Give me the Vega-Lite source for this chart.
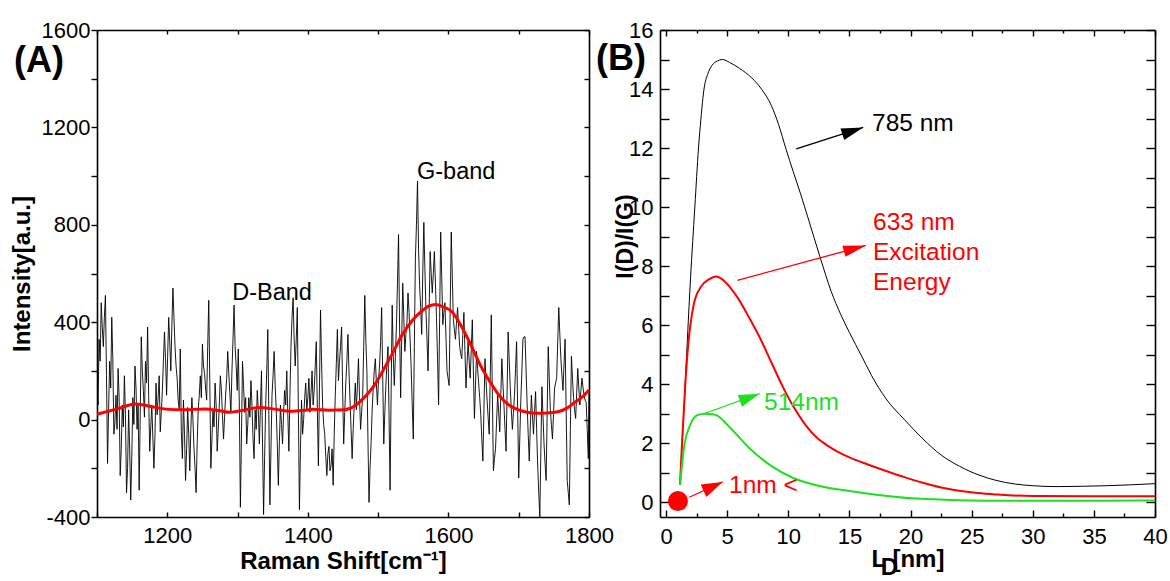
{
  "$schema": "https://vega.github.io/schema/vega-lite/v6.json",
  "background": "white",
  "padding": {"left": 10, "top": 19, "right": 5, "bottom": 0},
  "spacing": 71,
  "bounds": "flush",
  "config": {
    "font": "Liberation Sans",
    "view": {"stroke": null},
    "axis": {
      "domainColor": "black", "domainWidth": 1.6, "tickColor": "black", "tickWidth": 1.4,
      "labelColor": "black", "titleColor": "black", "labelFont": "Liberation Sans", "titleFont": "Liberation Sans",
      "labelFontSize": 22, "titleFontSize": 24, "titleFontWeight": "bold", "grid": false,
      "labelOverlap": false, "labelFlush": false, "labelBound": false
    }
  },
  "datasets": {
    "spectrum": [
      {"shift":1100,"intensity":150},{"shift":1101.5,"intensity":60},{"shift":1103,"intensity":330},{"shift":1104.5,"intensity":240},{"shift":1106,"intensity":480},{"shift":1107.5,"intensity":380},{"shift":1109,"intensity":300},{"shift":1110.5,"intensity":420},{"shift":1112,"intensity":510},{"shift":1113.5,"intensity":180},{"shift":1115,"intensity":-180},{"shift":1116.5,"intensity":40},{"shift":1118,"intensity":240},{"shift":1119.5,"intensity":130},{"shift":1121,"intensity":420},{"shift":1122.5,"intensity":250},{"shift":1124,"intensity":-60},{"shift":1125.5,"intensity":-10},{"shift":1127,"intensity":100},{"shift":1128.5,"intensity":-40},{"shift":1130,"intensity":210},{"shift":1131.5,"intensity":90},{"shift":1133,"intensity":-230},{"shift":1134.5,"intensity":-120},{"shift":1136,"intensity":60},{"shift":1137.5,"intensity":-30},{"shift":1139,"intensity":180},{"shift":1140.5,"intensity":20},{"shift":1142,"intensity":-300},{"shift":1143.5,"intensity":-200},{"shift":1145,"intensity":40},{"shift":1146.5,"intensity":-120},{"shift":1148,"intensity":-330},{"shift":1149.5,"intensity":-150},
      {"shift":1151,"intensity":90},{"shift":1152.5,"intensity":-20},{"shift":1154,"intensity":220},{"shift":1155.5,"intensity":130},{"shift":1157,"intensity":-40},{"shift":1158.5,"intensity":60},{"shift":1160,"intensity":-290},{"shift":1161.5,"intensity":20},{"shift":1163,"intensity":340},{"shift":1164.5,"intensity":200},{"shift":1166,"intensity":120},{"shift":1167.5,"intensity":10},{"shift":1169,"intensity":240},{"shift":1170.5,"intensity":150},{"shift":1172,"intensity":380},{"shift":1173.5,"intensity":100},{"shift":1175,"intensity":-130},{"shift":1176.5,"intensity":-30},{"shift":1178,"intensity":60},{"shift":1179.5,"intensity":-80},{"shift":1181,"intensity":-200},{"shift":1182.5,"intensity":-60},{"shift":1184,"intensity":150},{"shift":1185.5,"intensity":20},{"shift":1187,"intensity":90},{"shift":1188.5,"intensity":180},{"shift":1190,"intensity":-50},{"shift":1191.5,"intensity":30},{"shift":1193,"intensity":120},{"shift":1194.5,"intensity":240},{"shift":1196,"intensity":360},{"shift":1197.5,"intensity":250},{"shift":1199,"intensity":100},
      {"shift":1200.5,"intensity":260},{"shift":1202,"intensity":420},{"shift":1203.5,"intensity":320},{"shift":1205,"intensity":200},{"shift":1206.5,"intensity":380},{"shift":1208,"intensity":540},{"shift":1209.5,"intensity":420},{"shift":1211,"intensity":300},{"shift":1212.5,"intensity":220},{"shift":1214,"intensity":170},{"shift":1215.5,"intensity":80},{"shift":1217,"intensity":40},{"shift":1218.5,"intensity":290},{"shift":1220,"intensity":-50},{"shift":1221.5,"intensity":-160},{"shift":1223,"intensity":80},{"shift":1224.5,"intensity":-60},{"shift":1226,"intensity":-250},{"shift":1227.5,"intensity":-120},{"shift":1229,"intensity":50},{"shift":1230.5,"intensity":-60},{"shift":1232,"intensity":-210},{"shift":1233.5,"intensity":-40},{"shift":1235,"intensity":90},{"shift":1236.5,"intensity":0},{"shift":1238,"intensity":-120},{"shift":1239.5,"intensity":-200},{"shift":1241,"intensity":-300},{"shift":1242.5,"intensity":-100},{"shift":1244,"intensity":40},{"shift":1245.5,"intensity":100},{"shift":1247,"intensity":180},{"shift":1248.5,"intensity":90},
      {"shift":1250,"intensity":310},{"shift":1251.5,"intensity":220},{"shift":1253,"intensity":190},{"shift":1254.5,"intensity":130},{"shift":1256,"intensity":80},{"shift":1257.5,"intensity":300},{"shift":1259,"intensity":490},{"shift":1260.5,"intensity":150},{"shift":1262,"intensity":-200},{"shift":1263.5,"intensity":-80},{"shift":1265,"intensity":40},{"shift":1266.5,"intensity":-30},{"shift":1268,"intensity":150},{"shift":1269.5,"intensity":60},{"shift":1271,"intensity":-130},{"shift":1272.5,"intensity":-40},{"shift":1274,"intensity":60},{"shift":1275.5,"intensity":180},{"shift":1277,"intensity":120},{"shift":1278.5,"intensity":20},{"shift":1280,"intensity":-80},{"shift":1281.5,"intensity":10},{"shift":1283,"intensity":100},{"shift":1284.5,"intensity":170},{"shift":1286,"intensity":280},{"shift":1287.5,"intensity":190},{"shift":1289,"intensity":110},{"shift":1290.5,"intensity":30},{"shift":1292,"intensity":200},{"shift":1293.5,"intensity":330},{"shift":1295,"intensity":470},{"shift":1296.5,"intensity":300},{"shift":1298,"intensity":220},{"shift":1299.5,"intensity":120},
      {"shift":1301,"intensity":290},{"shift":1302.5,"intensity":60},{"shift":1304,"intensity":-360},{"shift":1305.5,"intensity":-80},{"shift":1307,"intensity":240},{"shift":1308.5,"intensity":140},{"shift":1310,"intensity":30},{"shift":1311.5,"intensity":90},{"shift":1313,"intensity":-100},{"shift":1314.5,"intensity":-20},{"shift":1316,"intensity":90},{"shift":1317.5,"intensity":10},{"shift":1319,"intensity":160},{"shift":1320.5,"intensity":60},{"shift":1322,"intensity":-80},{"shift":1323.5,"intensity":-160},{"shift":1325,"intensity":40},{"shift":1326.5,"intensity":-40},{"shift":1328,"intensity":120},{"shift":1329.5,"intensity":40},{"shift":1331,"intensity":-100},{"shift":1332.5,"intensity":50},{"shift":1334,"intensity":200},{"shift":1335.5,"intensity":-100},{"shift":1337,"intensity":-390},{"shift":1338.5,"intensity":-150},{"shift":1340,"intensity":60},{"shift":1341.5,"intensity":200},{"shift":1343,"intensity":370},{"shift":1344.5,"intensity":20},{"shift":1346,"intensity":-350},{"shift":1347.5,"intensity":-120},{"shift":1349,"intensity":100},
      {"shift":1350.5,"intensity":180},{"shift":1352,"intensity":280},{"shift":1353.5,"intensity":140},{"shift":1355,"intensity":40},{"shift":1356.5,"intensity":-100},{"shift":1358,"intensity":-270},{"shift":1359.5,"intensity":-90},{"shift":1361,"intensity":60},{"shift":1362.5,"intensity":-20},{"shift":1364,"intensity":-100},{"shift":1365.5,"intensity":30},{"shift":1367,"intensity":120},{"shift":1368.5,"intensity":60},{"shift":1370,"intensity":200},{"shift":1371.5,"intensity":20},{"shift":1373,"intensity":-130},{"shift":1374.5,"intensity":100},{"shift":1376,"intensity":300},{"shift":1377.5,"intensity":420},{"shift":1379,"intensity":500},{"shift":1380.5,"intensity":330},{"shift":1382,"intensity":220},{"shift":1383.5,"intensity":330},{"shift":1385,"intensity":460},{"shift":1386.5,"intensity":40},{"shift":1388,"intensity":-370},{"shift":1389.5,"intensity":-120},{"shift":1391,"intensity":80},{"shift":1392.5,"intensity":-60},{"shift":1394,"intensity":0},{"shift":1395.5,"intensity":90},{"shift":1397,"intensity":150},{"shift":1398.5,"intensity":40},
      {"shift":1400,"intensity":90},{"shift":1401.5,"intensity":170},{"shift":1403,"intensity":30},{"shift":1404.5,"intensity":110},{"shift":1406,"intensity":200},{"shift":1407.5,"intensity":60},{"shift":1409,"intensity":120},{"shift":1410.5,"intensity":220},{"shift":1412,"intensity":320},{"shift":1413.5,"intensity":40},{"shift":1415,"intensity":-190},{"shift":1416.5,"intensity":130},{"shift":1418,"intensity":450},{"shift":1419.5,"intensity":240},{"shift":1421,"intensity":60},{"shift":1422.5,"intensity":-20},{"shift":1424,"intensity":-60},{"shift":1425.5,"intensity":-150},{"shift":1427,"intensity":-230},{"shift":1428.5,"intensity":-140},{"shift":1430,"intensity":-110},{"shift":1431.5,"intensity":-210},{"shift":1433,"intensity":-190},{"shift":1434.5,"intensity":-120},{"shift":1436,"intensity":-270},{"shift":1437.5,"intensity":-60},{"shift":1439,"intensity":100},{"shift":1440.5,"intensity":230},{"shift":1442,"intensity":370},{"shift":1443.5,"intensity":160},{"shift":1445,"intensity":240},{"shift":1446.5,"intensity":300},{"shift":1448,"intensity":380},{"shift":1449.5,"intensity":120},
      {"shift":1451,"intensity":-100},{"shift":1452.5,"intensity":30},{"shift":1454,"intensity":150},{"shift":1455.5,"intensity":240},{"shift":1457,"intensity":350},{"shift":1458.5,"intensity":200},{"shift":1460,"intensity":80},{"shift":1461.5,"intensity":-40},{"shift":1463,"intensity":-160},{"shift":1464.5,"intensity":-40},{"shift":1466,"intensity":60},{"shift":1467.5,"intensity":150},{"shift":1469,"intensity":40},{"shift":1470.5,"intensity":140},{"shift":1472,"intensity":250},{"shift":1473.5,"intensity":90},{"shift":1475,"intensity":-40},{"shift":1476.5,"intensity":30},{"shift":1478,"intensity":100},{"shift":1479.5,"intensity":300},{"shift":1481,"intensity":510},{"shift":1482.5,"intensity":330},{"shift":1484,"intensity":200},{"shift":1485.5,"intensity":-80},{"shift":1487,"intensity":-340},{"shift":1488.5,"intensity":-200},{"shift":1490,"intensity":-90},{"shift":1491.5,"intensity":40},{"shift":1493,"intensity":130},{"shift":1494.5,"intensity":200},{"shift":1496,"intensity":250},{"shift":1497.5,"intensity":150},{"shift":1499,"intensity":60},
      {"shift":1500.5,"intensity":160},{"shift":1502,"intensity":220},{"shift":1503.5,"intensity":320},{"shift":1505,"intensity":460},{"shift":1506.5,"intensity":180},{"shift":1508,"intensity":-100},{"shift":1509.5,"intensity":30},{"shift":1511,"intensity":140},{"shift":1512.5,"intensity":230},{"shift":1514,"intensity":300},{"shift":1515.5,"intensity":20},{"shift":1517,"intensity":-290},{"shift":1518.5,"intensity":120},{"shift":1520,"intensity":470},{"shift":1521.5,"intensity":260},{"shift":1523,"intensity":140},{"shift":1524.5,"intensity":260},{"shift":1526,"intensity":380},{"shift":1527.5,"intensity":560},{"shift":1529,"intensity":760},{"shift":1530.5,"intensity":380},{"shift":1532,"intensity":90},{"shift":1533.5,"intensity":330},{"shift":1535,"intensity":560},{"shift":1536.5,"intensity":420},{"shift":1538,"intensity":280},{"shift":1539.5,"intensity":350},{"shift":1541,"intensity":400},{"shift":1542.5,"intensity":520},{"shift":1544,"intensity":440},{"shift":1545.5,"intensity":330},{"shift":1547,"intensity":210},{"shift":1548.5,"intensity":60},
      {"shift":1550,"intensity":-80},{"shift":1551.5,"intensity":300},{"shift":1553,"intensity":660},{"shift":1554.5,"intensity":800},{"shift":1556,"intensity":980},{"shift":1557.5,"intensity":700},{"shift":1559,"intensity":550},{"shift":1560.5,"intensity":460},{"shift":1562,"intensity":350},{"shift":1563.5,"intensity":600},{"shift":1565,"intensity":810},{"shift":1566.5,"intensity":620},{"shift":1568,"intensity":450},{"shift":1569.5,"intensity":330},{"shift":1571,"intensity":200},{"shift":1572.5,"intensity":440},{"shift":1574,"intensity":690},{"shift":1575.5,"intensity":600},{"shift":1577,"intensity":520},{"shift":1578.5,"intensity":600},{"shift":1580,"intensity":690},{"shift":1581.5,"intensity":560},{"shift":1583,"intensity":420},{"shift":1584.5,"intensity":250},{"shift":1586,"intensity":60},{"shift":1587.5,"intensity":420},{"shift":1589,"intensity":770},{"shift":1590.5,"intensity":580},{"shift":1592,"intensity":390},{"shift":1593.5,"intensity":440},{"shift":1595,"intensity":480},{"shift":1596.5,"intensity":340},{"shift":1598,"intensity":200},{"shift":1599.5,"intensity":170},
      {"shift":1601,"intensity":140},{"shift":1602.5,"intensity":450},{"shift":1604,"intensity":770},{"shift":1605.5,"intensity":590},{"shift":1607,"intensity":410},{"shift":1608.5,"intensity":370},{"shift":1610,"intensity":330},{"shift":1611.5,"intensity":400},{"shift":1613,"intensity":460},{"shift":1614.5,"intensity":380},{"shift":1616,"intensity":300},{"shift":1617.5,"intensity":270},{"shift":1619,"intensity":250},{"shift":1620.5,"intensity":350},{"shift":1622,"intensity":440},{"shift":1623.5,"intensity":280},{"shift":1625,"intensity":130},{"shift":1626.5,"intensity":230},{"shift":1628,"intensity":320},{"shift":1629.5,"intensity":240},{"shift":1631,"intensity":170},{"shift":1632.5,"intensity":290},{"shift":1634,"intensity":410},{"shift":1635.5,"intensity":200},{"shift":1637,"intensity":5},{"shift":1638.5,"intensity":140},{"shift":1640,"intensity":280},{"shift":1641.5,"intensity":210},{"shift":1643,"intensity":150},{"shift":1644.5,"intensity":90},{"shift":1646,"intensity":20},{"shift":1647.5,"intensity":-80},{"shift":1649,"intensity":-170},
      {"shift":1650.5,"intensity":40},{"shift":1652,"intensity":250},{"shift":1653.5,"intensity":160},{"shift":1655,"intensity":80},{"shift":1656.5,"intensity":10},{"shift":1658,"intensity":-60},{"shift":1659.5,"intensity":180},{"shift":1661,"intensity":430},{"shift":1662.5,"intensity":100},{"shift":1664,"intensity":-210},{"shift":1665.5,"intensity":-160},{"shift":1667,"intensity":-120},{"shift":1668.5,"intensity":-10},{"shift":1670,"intensity":100},{"shift":1671.5,"intensity":30},{"shift":1673,"intensity":-50},{"shift":1674.5,"intensity":100},{"shift":1676,"intensity":250},{"shift":1677.5,"intensity":150},{"shift":1679,"intensity":60},{"shift":1680.5,"intensity":-40},{"shift":1682,"intensity":-130},{"shift":1683.5,"intensity":120},{"shift":1685,"intensity":360},{"shift":1686.5,"intensity":240},{"shift":1688,"intensity":130},{"shift":1689.5,"intensity":40},{"shift":1691,"intensity":-40},{"shift":1692.5,"intensity":30},{"shift":1694,"intensity":100},{"shift":1695.5,"intensity":210},{"shift":1697,"intensity":320},{"shift":1698.5,"intensity":40},
      {"shift":1700,"intensity":-240},{"shift":1701.5,"intensity":-80},{"shift":1703,"intensity":80},{"shift":1704.5,"intensity":200},{"shift":1706,"intensity":330},{"shift":1707.5,"intensity":340},{"shift":1709,"intensity":340},{"shift":1710.5,"intensity":200},{"shift":1712,"intensity":60},{"shift":1713.5,"intensity":-60},{"shift":1715,"intensity":-170},{"shift":1716.5,"intensity":-30},{"shift":1718,"intensity":100},{"shift":1719.5,"intensity":20},{"shift":1721,"intensity":-60},{"shift":1722.5,"intensity":30},{"shift":1724,"intensity":115},{"shift":1725.5,"intensity":-40},{"shift":1727,"intensity":-190},{"shift":1728.5,"intensity":-300},{"shift":1730,"intensity":-400},{"shift":1731.5,"intensity":-130},{"shift":1733,"intensity":135},{"shift":1734.5,"intensity":20},{"shift":1736,"intensity":-100},{"shift":1737.5,"intensity":-180},{"shift":1739,"intensity":-250},{"shift":1740.5,"intensity":30},{"shift":1742,"intensity":300},{"shift":1743.5,"intensity":170},{"shift":1745,"intensity":40},{"shift":1746.5,"intensity":-20},{"shift":1748,"intensity":-80},{"shift":1749.5,"intensity":20},
      {"shift":1751,"intensity":130},{"shift":1752.5,"intensity":150},{"shift":1754,"intensity":170},{"shift":1755.5,"intensity":320},{"shift":1757,"intensity":460},{"shift":1758.5,"intensity":350},{"shift":1760,"intensity":250},{"shift":1761.5,"intensity":180},{"shift":1763,"intensity":120},{"shift":1764.5,"intensity":230},{"shift":1766,"intensity":330},{"shift":1767.5,"intensity":40},{"shift":1769,"intensity":-250},{"shift":1770.5,"intensity":-300},{"shift":1772,"intensity":-350},{"shift":1773.5,"intensity":-40},{"shift":1775,"intensity":260},{"shift":1776.5,"intensity":170},{"shift":1778,"intensity":90},{"shift":1779.5,"intensity":40},{"shift":1781,"intensity":5},{"shift":1782.5,"intensity":110},{"shift":1784,"intensity":210},{"shift":1785.5,"intensity":130},{"shift":1787,"intensity":60},{"shift":1788.5,"intensity":120},{"shift":1790,"intensity":170},{"shift":1791.5,"intensity":130},{"shift":1793,"intensity":100},{"shift":1794.5,"intensity":80},{"shift":1796,"intensity":70},{"shift":1797.5,"intensity":-40},{"shift":1799,"intensity":-160},{"shift":1800,"intensity":120}
    ],
    "fitA": [
      {"shift":1100,"fit":22},{"shift":1130,"fit":45},{"shift":1155,"fit":64},{"shift":1180,"fit":52},{"shift":1201,"fit":42},{"shift":1225,"fit":40},{"shift":1254,"fit":44},{"shift":1275,"fit":36},{"shift":1289,"fit":30},{"shift":1310,"fit":40},{"shift":1332,"fit":50},{"shift":1355,"fit":42},{"shift":1376,"fit":34},{"shift":1395,"fit":38},{"shift":1407,"fit":42},{"shift":1430,"fit":38},{"shift":1452,"fit":40},{"shift":1466,"fit":55},{"shift":1479,"fit":87},{"shift":1492,"fit":130},{"shift":1506,"fit":197},{"shift":1520,"fit":270},{"shift":1534,"fit":347},{"shift":1548,"fit":405},{"shift":1561,"fit":443},{"shift":1572,"fit":466},{"shift":1582,"fit":473},{"shift":1593,"fit":462},{"shift":1605,"fit":443},{"shift":1618,"fit":385},{"shift":1632,"fit":306},{"shift":1645,"fit":226},{"shift":1659,"fit":156},{"shift":1672,"fit":100},{"shift":1686,"fit":60},{"shift":1700,"fit":40},{"shift":1712,"fit":30},{"shift":1724,"fit":26},{"shift":1740,"fit":27},{"shift":1757,"fit":33},{"shift":1768,"fit":46},{"shift":1778,"fit":67},{"shift":1790,"fit":92},{"shift":1800,"fit":122}
    ],
    "bandLabels": [
      {"shift":1349,"intensity":493,"label":"D-Band"},
      {"shift":1611,"intensity":988,"label":"G-band"}
    ],
    "curves": [
      {"series":"785 nm","L":1.14,"ratio":0.6},{"series":"785 nm","L":1.5,"ratio":3.5},{"series":"785 nm","L":2.0,"ratio":7.6},{"series":"785 nm","L":2.35,"ratio":10.0},{"series":"785 nm","L":2.65,"ratio":12.0},{"series":"785 nm","L":2.85,"ratio":13.0},{"series":"785 nm","L":3.1,"ratio":14.0},{"series":"785 nm","L":3.4,"ratio":14.5},{"series":"785 nm","L":3.75,"ratio":14.8},{"series":"785 nm","L":4.2,"ratio":14.95},{"series":"785 nm","L":4.6,"ratio":15.0},{"series":"785 nm","L":5.2,"ratio":14.9},{"series":"785 nm","L":6.0,"ratio":14.7},{"series":"785 nm","L":7.0,"ratio":14.38},{"series":"785 nm","L":7.8,"ratio":14.0},{"series":"785 nm","L":8.6,"ratio":13.45},{"series":"785 nm","L":9.2,"ratio":12.8},{"series":"785 nm","L":9.8,"ratio":11.98},{"series":"785 nm","L":10.4,"ratio":11.2},{"series":"785 nm","L":11.0,"ratio":10.45},{"series":"785 nm","L":11.6,"ratio":9.65},{"series":"785 nm","L":12.6,"ratio":8.3},{"series":"785 nm","L":13.5,"ratio":7.15},{"series":"785 nm","L":14.3,"ratio":6.35},{"series":"785 nm","L":15.0,"ratio":5.75},{"series":"785 nm","L":16.0,"ratio":4.95},{"series":"785 nm","L":16.8,"ratio":4.3},{"series":"785 nm","L":18.0,"ratio":3.5},{"series":"785 nm","L":19.5,"ratio":2.8},{"series":"785 nm","L":21.0,"ratio":2.15},{"series":"785 nm","L":22.5,"ratio":1.6},{"series":"785 nm","L":24.0,"ratio":1.22},{"series":"785 nm","L":25.6,"ratio":0.92},{"series":"785 nm","L":27.0,"ratio":0.74},{"series":"785 nm","L":28.5,"ratio":0.62},{"series":"785 nm","L":30.0,"ratio":0.56},{"series":"785 nm","L":32.0,"ratio":0.53},{"series":"785 nm","L":34.0,"ratio":0.54},{"series":"785 nm","L":36.0,"ratio":0.56},{"series":"785 nm","L":38.0,"ratio":0.59},{"series":"785 nm","L":40.0,"ratio":0.63},
      {"series":"633 nm","L":1.14,"ratio":0.6},{"series":"633 nm","L":1.3,"ratio":2.0},{"series":"633 nm","L":1.6,"ratio":4.2},{"series":"633 nm","L":1.8,"ratio":5.3},{"series":"633 nm","L":2.26,"ratio":6.7},{"series":"633 nm","L":2.85,"ratio":7.3},{"series":"633 nm","L":3.5,"ratio":7.55},{"series":"633 nm","L":4.1,"ratio":7.65},{"series":"633 nm","L":4.6,"ratio":7.55},{"series":"633 nm","L":5.2,"ratio":7.3},{"series":"633 nm","L":5.9,"ratio":6.9},{"series":"633 nm","L":6.8,"ratio":6.25},{"series":"633 nm","L":7.7,"ratio":5.55},{"series":"633 nm","L":8.6,"ratio":4.75},{"series":"633 nm","L":9.5,"ratio":3.95},{"series":"633 nm","L":10.4,"ratio":3.25},{"series":"633 nm","L":11.35,"ratio":2.65},{"series":"633 nm","L":12.3,"ratio":2.2},{"series":"633 nm","L":13.2,"ratio":1.92},{"series":"633 nm","L":14.1,"ratio":1.7},{"series":"633 nm","L":15.0,"ratio":1.52},{"series":"633 nm","L":16.5,"ratio":1.28},{"series":"633 nm","L":18.0,"ratio":1.06},{"series":"633 nm","L":19.5,"ratio":0.85},{"series":"633 nm","L":21.0,"ratio":0.66},{"series":"633 nm","L":22.5,"ratio":0.5},{"series":"633 nm","L":24.0,"ratio":0.39},{"series":"633 nm","L":25.5,"ratio":0.31},{"series":"633 nm","L":27.1,"ratio":0.26},{"series":"633 nm","L":30.0,"ratio":0.21},{"series":"633 nm","L":35.0,"ratio":0.2},{"series":"633 nm","L":40.0,"ratio":0.2},
      {"series":"514 nm","L":1.14,"ratio":0.6},{"series":"514 nm","L":1.5,"ratio":1.95},{"series":"514 nm","L":1.95,"ratio":2.6},{"series":"514 nm","L":2.56,"ratio":2.95},{"series":"514 nm","L":3.17,"ratio":3.0},{"series":"514 nm","L":3.8,"ratio":2.98},{"series":"514 nm","L":4.1,"ratio":2.95},{"series":"514 nm","L":5.3,"ratio":2.5},{"series":"514 nm","L":6.8,"ratio":1.84},{"series":"514 nm","L":8.6,"ratio":1.23},{"series":"514 nm","L":10.4,"ratio":0.82},{"series":"514 nm","L":12.56,"ratio":0.55},{"series":"514 nm","L":15.0,"ratio":0.38},{"series":"514 nm","L":17.5,"ratio":0.24},{"series":"514 nm","L":19.8,"ratio":0.14},{"series":"514 nm","L":22.0,"ratio":0.1},{"series":"514 nm","L":24.0,"ratio":0.07},{"series":"514 nm","L":28.0,"ratio":0.05},{"series":"514 nm","L":32.0,"ratio":0.05},{"series":"514 nm","L":36.0,"ratio":0.05},{"series":"514 nm","L":40.0,"ratio":0.06}
    ],
    "arrows": [
      {"series":"785 nm","L":10.65,"ratio":11.97,"L2":16.13,"ratio2":12.70},
      {"series":"633 nm","L":5.83,"ratio":7.52,"L2":16.35,"ratio2":8.70},
      {"series":"514 nm","L":3.02,"ratio":2.99,"L2":7.65,"ratio2":3.68},
      {"series":"1 nm","L":1.9,"ratio":0.17,"L2":4.62,"ratio2":0.69}
    ],
    "annB": [
      {"series":"785 nm","L":16.85,"ratio":12.58,"label":"785 nm"},
      {"series":"633 nm","L":16.93,"ratio":9.22,"label":"633 nm"},
      {"series":"633 nm","L":16.93,"ratio":8.21,"label":"Excitation"},
      {"series":"633 nm","L":16.93,"ratio":7.19,"label":"Energy"},
      {"series":"514 nm","L":8.01,"ratio":3.12,"label":"514nm"},
      {"series":"1 nm","L":5.15,"ratio":0.31,"label":"1nm <"}
    ],
    "marker": [{"series":"1 nm","L":0.97,"ratio":0.04}]
  },
  "hconcat": [
    {
      "width": 492,
      "height": 487,
      "resolve": {"axis": {"x": "independent", "y": "independent"}},
      "layer": [
        {
          "data": {"name": "spectrum"},
          "mark": {"type": "line", "color": "black", "strokeWidth": 0.9, "clip": true},
          "encoding": {
            "x": {"field": "shift", "type": "quantitative", "scale": {"domain": [1100, 1800], "nice": false},
              "axis": {"orient": "bottom", "title": "Raman Shift[cm⁻¹]", "values": [1100,1200,1300,1400,1500,1600,1700,1800],
                "labelExpr": "datum.value % 200 === 0 && datum.value > 1100 ? '' + datum.value : ''",
                "tickSize": -5, "labelPadding": 13, "titleY": 44, "titleBaseline": "middle"}},
            "y": {"field": "intensity", "type": "quantitative", "scale": {"domain": [-400, 1600], "nice": false},
              "axis": {"orient": "left", "title": "Intensity[a.u.]", "values": [-400,-200,0,200,400,600,800,1000,1200,1400,1600],
                "labelExpr": "datum.value % 400 === 0 ? '' + datum.value : ''",
                "tickSize": 6, "labelPadding": 1, "titleX": -75, "titleY": 243.5, "titleBaseline": "middle"}}
          }
        },
        {
          "data": {"name": "fitA"},
          "mark": {"type": "line", "color": "#ff0000", "strokeWidth": 3, "interpolate": "monotone"},
          "encoding": {
            "x": {"field": "shift", "type": "quantitative", "scale": {"domain": [1100, 1800], "nice": false},
              "axis": {"orient": "top", "labels": false, "title": null, "values": [1100,1200,1300,1400,1500,1600,1700,1800], "tickSize": -4}},
            "y": {"field": "fit", "type": "quantitative", "scale": {"domain": [-400, 1600], "nice": false},
              "axis": {"orient": "right", "labels": false, "title": null, "values": [-400,-200,0,200,400,600,800,1000,1200,1400,1600], "tickSize": -5}}
          }
        },
        {
          "data": {"name": "bandLabels"},
          "mark": {"type": "text", "fontSize": 23.5, "align": "center", "baseline": "alphabetic", "color": "black", "font": "Liberation Sans"},
          "encoding": {
            "x": {"field": "shift", "type": "quantitative", "scale": {"domain": [1100, 1800], "nice": false}, "axis": null},
            "y": {"field": "intensity", "type": "quantitative", "scale": {"domain": [-400, 1600], "nice": false}, "axis": null},
            "text": {"field": "label"}
          }
        },
        {
          "data": {"values": [{"panel": "A"}]},
          "mark": {"type": "text", "text": "(A)", "fontSize": 36, "fontWeight": "bold", "align": "left", "baseline": "alphabetic", "dx": -83, "dy": 42, "color": "black", "font": "Liberation Sans"},
          "encoding": {
            "x": {"datum": 1100, "type": "quantitative", "scale": {"domain": [1100, 1800], "nice": false}, "axis": null},
            "y": {"datum": 1600, "type": "quantitative", "scale": {"domain": [-400, 1600], "nice": false}, "axis": null}
          }
        }
      ]
    },
    {
      "width": 495,
      "height": 487,
      "resolve": {"axis": {"x": "independent", "y": "independent"}},
      "layer": [
        {
          "data": {"name": "curves"},
          "transform": [{"filter": "datum.series === '785 nm'"}],
          "mark": {"type": "line", "strokeWidth": 1, "interpolate": "monotone"},
          "encoding": {
            "x": {"field": "L", "type": "quantitative", "scale": {"domain": [-0.5, 40], "nice": false},
              "axis": {"orient": "bottom", "title": "L   [nm]", "values": [0,2.5,5,7.5,10,12.5,15,17.5,20,22.5,25,27.5,30,32.5,35,37.5,40],
                "labelExpr": "datum.value % 5 === 0 ? datum.label : ''",
                "tickSize": {"condition": {"test": "datum.value % 5 === 0", "value": -7}, "value": -4},
                "labelPadding": 16, "titleY": 42, "titleBaseline": "middle"}},
            "y": {"field": "ratio", "type": "quantitative", "scale": {"domain": [-0.5, 16], "nice": false},
              "axis": {"orient": "left", "title": "I(D)/I(G)", "titleFontSize": 23, "values": [0,1,2,3,4,5,6,7,8,9,10,11,12,13,14,15,16],
                "labelExpr": "datum.value % 2 === 0 ? datum.label : ''",
                "tickSize": -9, "labelPadding": 16, "titleX": -35, "titleY": 206, "titleBaseline": "middle"}},
            "color": {"field": "series", "type": "nominal", "scale": {"domain": ["785 nm","633 nm","514 nm","1 nm"], "range": ["#000000","#ff0000","#1ee01e","#ff0000"]}, "legend": null},
            "detail": {"field": "series"}
          }
        },
        {
          "data": {"name": "curves"},
          "transform": [{"filter": "datum.series !== '785 nm'"}],
          "mark": {"type": "line", "strokeWidth": 2, "interpolate": "monotone"},
          "encoding": {
            "x": {"field": "L", "type": "quantitative", "scale": {"domain": [-0.5, 40], "nice": false},
              "axis": {"orient": "top", "labels": false, "title": null, "values": [0,2.5,5,7.5,10,12.5,15,17.5,20,22.5,25,27.5,30,32.5,35,37.5,40],
                "tickSize": {"condition": {"test": "datum.value % 5 === 0", "value": -6}, "value": -3}}},
            "y": {"field": "ratio", "type": "quantitative", "scale": {"domain": [-0.5, 16], "nice": false},
              "axis": {"orient": "right", "labels": false, "title": null, "values": [0,1,2,3,4,5,6,7,8,9,10,11,12,13,14,15,16], "tickSize": -9}},
            "color": {"field": "series", "type": "nominal", "legend": null}
          }
        },
        {
          "data": {"name": "arrows"},
          "mark": {"type": "rule", "strokeWidth": 1.3},
          "encoding": {
            "x": {"field": "L", "type": "quantitative", "scale": {"domain": [-0.5, 40], "nice": false}, "axis": null},
            "y": {"field": "ratio", "type": "quantitative", "scale": {"domain": [-0.5, 16], "nice": false}, "axis": null},
            "x2": {"field": "L2"},
            "y2": {"field": "ratio2"},
            "color": {"field": "series", "type": "nominal", "legend": null}
          }
        },
        {
          "data": {"name": "arrows"},
          "transform": [{"filter": "datum.series === '785 nm'"}],
          "mark": {"type": "point", "shape": "M0,0L-2,-0.55L-2,0.55Z", "size": 484, "filled": true, "opacity": 1, "angle": 342},
          "encoding": {
            "x": {"field": "L2", "type": "quantitative", "scale": {"domain": [-0.5, 40], "nice": false}, "axis": null},
            "y": {"field": "ratio2", "type": "quantitative", "scale": {"domain": [-0.5, 16], "nice": false}, "axis": null},
            "color": {"field": "series", "type": "nominal", "legend": null}
          }
        },
        {
          "data": {"name": "arrows"},
          "transform": [{"filter": "datum.series === '633 nm'"}],
          "mark": {"type": "point", "shape": "M0,0L-2,-0.5L-2,0.5Z", "size": 520, "filled": true, "opacity": 1, "angle": 345},
          "encoding": {
            "x": {"field": "L2", "type": "quantitative", "scale": {"domain": [-0.5, 40], "nice": false}, "axis": null},
            "y": {"field": "ratio2", "type": "quantitative", "scale": {"domain": [-0.5, 16], "nice": false}, "axis": null},
            "color": {"field": "series", "type": "nominal", "legend": null}
          }
        },
        {
          "data": {"name": "arrows"},
          "transform": [{"filter": "datum.series === '514 nm'"}],
          "mark": {"type": "point", "shape": "M0,0L-2,-0.6L-2,0.6Z", "size": 441, "filled": true, "opacity": 1, "angle": 340},
          "encoding": {
            "x": {"field": "L2", "type": "quantitative", "scale": {"domain": [-0.5, 40], "nice": false}, "axis": null},
            "y": {"field": "ratio2", "type": "quantitative", "scale": {"domain": [-0.5, 16], "nice": false}, "axis": null},
            "color": {"field": "series", "type": "nominal", "legend": null}
          }
        },
        {
          "data": {"name": "arrows"},
          "transform": [{"filter": "datum.series === '1 nm'"}],
          "mark": {"type": "point", "shape": "M0,0L-2,-0.65L-2,0.65Z", "size": 441, "filled": true, "opacity": 1, "angle": 335},
          "encoding": {
            "x": {"field": "L2", "type": "quantitative", "scale": {"domain": [-0.5, 40], "nice": false}, "axis": null},
            "y": {"field": "ratio2", "type": "quantitative", "scale": {"domain": [-0.5, 16], "nice": false}, "axis": null},
            "color": {"field": "series", "type": "nominal", "legend": null}
          }
        },
        {
          "data": {"name": "marker"},
          "mark": {"type": "circle", "size": 400, "opacity": 1},
          "encoding": {
            "x": {"field": "L", "type": "quantitative", "scale": {"domain": [-0.5, 40], "nice": false}, "axis": null},
            "y": {"field": "ratio", "type": "quantitative", "scale": {"domain": [-0.5, 16], "nice": false}, "axis": null},
            "color": {"field": "series", "type": "nominal", "legend": null}
          }
        },
        {
          "data": {"name": "annB"},
          "mark": {"type": "text", "fontSize": 24.5, "align": "left", "baseline": "alphabetic", "font": "Liberation Sans"},
          "encoding": {
            "x": {"field": "L", "type": "quantitative", "scale": {"domain": [-0.5, 40], "nice": false}, "axis": null},
            "y": {"field": "ratio", "type": "quantitative", "scale": {"domain": [-0.5, 16], "nice": false}, "axis": null},
            "text": {"field": "label"},
            "color": {"field": "series", "type": "nominal", "legend": null}
          }
        },
        {
          "data": {"values": [{"part": "subscript"}]},
          "mark": {"type": "text", "text": "D", "fontSize": 24, "fontWeight": "bold", "align": "center", "baseline": "middle", "dy": 51, "color": "black", "font": "Liberation Sans"},
          "encoding": {
            "x": {"datum": 18.28, "type": "quantitative", "scale": {"domain": [-0.5, 40], "nice": false}, "axis": null},
            "y": {"datum": -0.5, "type": "quantitative", "scale": {"domain": [-0.5, 16], "nice": false}, "axis": null}
          }
        },
        {
          "data": {"values": [{"panel": "B"}]},
          "mark": {"type": "text", "text": "(B)", "fontSize": 36, "fontWeight": "bold", "align": "left", "baseline": "alphabetic", "dx": -64, "dy": 40, "color": "black", "font": "Liberation Sans"},
          "encoding": {
            "x": {"datum": -0.5, "type": "quantitative", "scale": {"domain": [-0.5, 40], "nice": false}, "axis": null},
            "y": {"datum": 16, "type": "quantitative", "scale": {"domain": [-0.5, 16], "nice": false}, "axis": null}
          }
        }
      ]
    }
  ]
}
